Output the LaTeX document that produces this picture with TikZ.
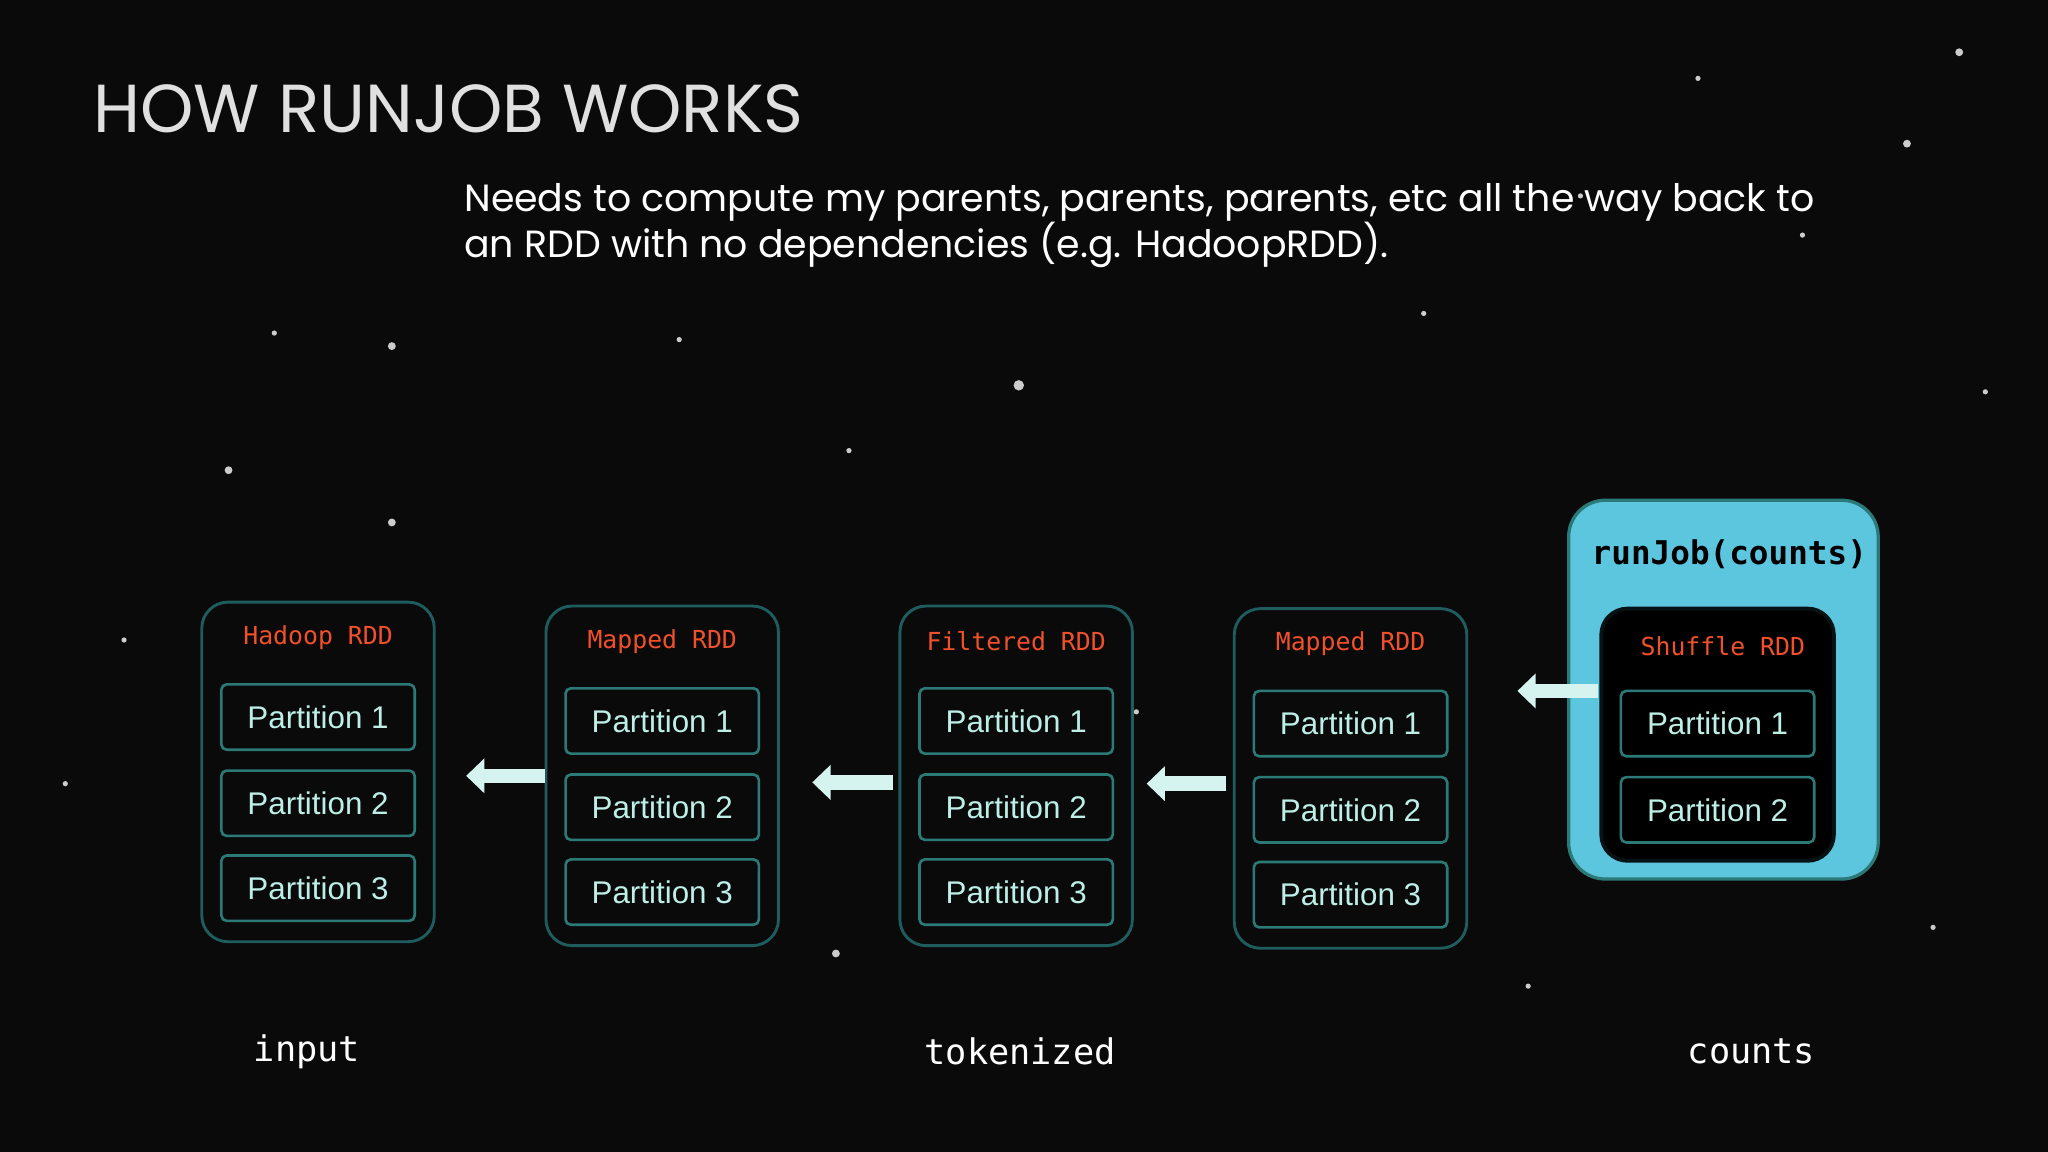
\documentclass[tikz,border=0pt]{standalone}
\usepackage{fontspec}
\setmainfont{Poppins}
\setmonofont{DejaVu Sans Mono}
\usetikzlibrary{arrows.meta}
\definecolor{bg}{HTML}{0A0A0B}
\definecolor{boxline}{HTML}{1F5C5E}
\definecolor{partline}{HTML}{2C7A78}
\definecolor{parttext}{HTML}{BDEFE6}
\definecolor{hdr}{HTML}{F0502A}
\definecolor{cyanbox}{HTML}{5CC6DF}
\definecolor{arr}{HTML}{D6F4EF}
\tikzset{
 rdd/.style={draw=boxline,line width=2.2pt,rounded corners=20pt,minimum width=178pt,minimum height=260pt},
 part/.style={draw=partline,line width=2pt,rounded corners=4pt,minimum width=148pt,minimum height=50pt,text=parttext,font=\fontsize{24}{26}\selectfont\sffamily\setmainfont{Liberation Sans}},
 hd/.style={text=hdr,font=\fontsize{19}{20}\selectfont\ttfamily},
 lbl/.style={text=white,font=\fontsize{27}{28}\selectfont\ttfamily},
 bigarr/.style={arr,line width=11pt,-{Triangle[length=14pt,width=26pt]}}
}
\begin{document}
\begin{tikzpicture}[x=1pt,y=-1pt]
\fill[bg] (0,0) rectangle (1568,882);
\useasboundingbox (0,0) rectangle (1568,882);
\foreach \x/\y/\r in {300/265/3,210/255/2,780/295/4,520/260/2,1090/240/2,1460/110/3,1520/300/2,1380/180/2,960/150/2,650/345/2,870/545/2,640/730/3,1170/755/2,95/490/2,50/600/2,300/400/3,1480/710/2,1210/150/2,1300/60/2,1500/40/3,175/360/3}
  \fill[gray!40] (\x,\y) circle (\r);
\node[anchor=west,text=white!88!black,font=\fontsize{52}{54}\selectfont] (title) at (68,83) {HOW RUNJOB WORKS};
\node[anchor=north west,text=white,align=left,font=\fontsize{29}{35}\selectfont] (sub) at (352,137) {Needs to compute my parents, parents, parents, etc all the way back to\\an RDD with no dependencies (e.g. HadoopRDD).};
% cyan box
\node[draw=partline,fill=cyanbox,line width=2.5pt,rounded corners=28pt,minimum width=237pt,minimum height=290pt] (job) at (1319.5,528) {};
\node[font=\fontsize{25}{26}\selectfont\ttfamily\bfseries,text=black] (jobt) at (1324,424) {runJob(counts)};
\node[rdd,fill=black,draw=black!80!boxline,line width=3pt,minimum height=193pt] (r5) at (1315,562.5) {};
\node[hd] (h5) at (1319,495) {Shuffle RDD};
\node[part] (p51) at (1315,554) {Partition 1};
\node[part] (p52) at (1315,620) {Partition 2};
% others
\foreach \n/\cx/\cy/\t in {1/243.5/591/Hadoop RDD,2/507/594/Mapped RDD,3/778/594/Filtered RDD,4/1034/596/Mapped RDD}{
  \node[rdd] (r\n) at (\cx,\cy) {};
  \node[hd] (h\n) at (\cx,\cy-103) {\t};
  \node[part] (p\n1) at (\cx,\cy-42) {Partition 1};
  \node[part] (p\n2) at (\cx,\cy+24) {Partition 2};
  \node[part] (p\n3) at (\cx,\cy+89) {Partition 3};
}
\draw[bigarr] (r2.west) -- ([xshift=-60pt]r2.west);
\draw[bigarr] ([xshift=-4pt,yshift=-5pt]r3.west) -- ([xshift=-66pt,yshift=-5pt]r3.west);
\draw[bigarr] ([xshift=-5pt,yshift=-4pt]r4.west) -- ([xshift=-66pt,yshift=-4pt]r4.west);
\draw[bigarr] ([yshift=-1pt]job.west) ++(24,0) -- ++(-62,0);
\node[lbl] (l1) at (235,805) {input};
\node[lbl] (l2) at (781,805) {tokenized};
\node[lbl] (l3) at (1341,805) {counts};
\end{tikzpicture}
\end{document}
